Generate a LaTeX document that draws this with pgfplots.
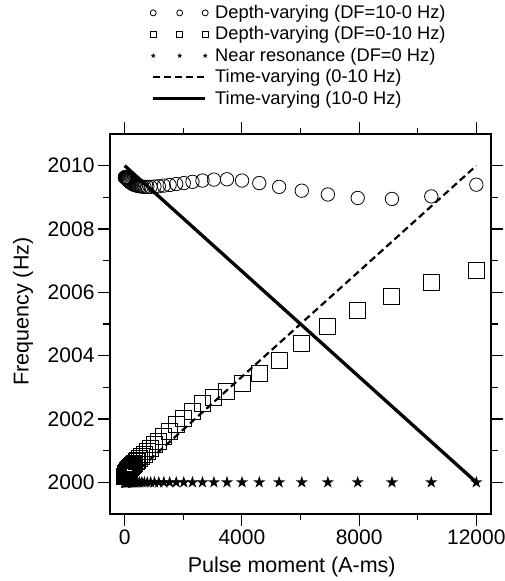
\documentclass[border=0pt]{standalone}
\usepackage{fontspec}
\setmainfont{Liberation Sans}
\usepackage{pgfplots}
\pgfplotsset{compat=1.18}
\usepackage{pgfplotstable}

\pgfdeclareplotmark{fstar}{%
  \pgfpathmoveto{\pgfpointpolar{90}{\pgfplotmarksize}}%
  \pgfpathlineto{\pgfpointpolar{126}{0.382\pgfplotmarksize}}%
  \pgfpathlineto{\pgfpointpolar{162}{\pgfplotmarksize}}%
  \pgfpathlineto{\pgfpointpolar{198}{0.382\pgfplotmarksize}}%
  \pgfpathlineto{\pgfpointpolar{234}{\pgfplotmarksize}}%
  \pgfpathlineto{\pgfpointpolar{270}{0.382\pgfplotmarksize}}%
  \pgfpathlineto{\pgfpointpolar{306}{\pgfplotmarksize}}%
  \pgfpathlineto{\pgfpointpolar{342}{0.382\pgfplotmarksize}}%
  \pgfpathlineto{\pgfpointpolar{18}{\pgfplotmarksize}}%
  \pgfpathlineto{\pgfpointpolar{54}{0.382\pgfplotmarksize}}%
  \pgfpathclose\pgfusepathqfill}

\pgfplotstableread{
x circ sq star
11 2009.63 2000.20 2000
12.6 2009.63 2000.20 2000
14.5 2009.63 2000.21 2000
16.6 2009.63 2000.21 2000
19 2009.63 2000.22 2000
21.8 2009.63 2000.22 2000
25 2009.62 2000.23 2000
28.7 2009.62 2000.24 2000
32.9 2009.62 2000.25 2000
37.8 2009.61 2000.26 2000
43.3 2009.61 2000.27 2000
50 2009.60 2000.28 2000
57 2009.60 2000.29 2000
65 2009.59 2000.30 2000
75 2009.58 2000.32 2000
86 2009.57 2000.33 2000
99 2009.56 2000.35 2000
113 2009.54 2000.37 2000
130 2009.53 2000.39 2000
149 2009.51 2000.41 2000
171 2009.49 2000.43 2000
196 2009.47 2000.46 2000
225 2009.45 2000.49 2000
258 2009.43 2000.52 2000
296 2009.41 2000.56 2000
339 2009.39 2000.60 2000
389 2009.38 2000.65 2000
446 2009.36 2000.70 2000
512 2009.35 2000.75 2000
587 2009.34 2000.81 2000
674 2009.33 2000.88 2000
773 2009.33 2000.97 2000
886 2009.33 2001.07 2000
1016 2009.34 2001.18 2000
1166 2009.35 2001.30 2000
1337 2009.37 2001.45 2000
1534 2009.39 2001.62 2000
1759 2009.42 2001.82 2000
2018 2009.45 2002.02 2000
2314 2009.49 2002.24 2000
2655 2009.53 2002.48 2000
3045 2009.56 2002.68 2000
3492 2009.57 2002.88 2000
4006 2009.53 2003.13 2000
4594 2009.45 2003.45 2000
5270 2009.33 2003.84 2000
6044 2009.21 2004.39 2000
6933 2009.09 2004.91 2000
7952 2008.98 2005.44 2000
9121 2008.95 2005.86 2000
10462 2009.03 2006.30 2000
12000 2009.40 2006.68 2000
}\datatable

\pgfplotsset{
  markleg/.style={legend image code/.code={%
    \draw[only marks, mark size=#1] plot coordinates {(0pt,0pt)(26.5pt,0pt)(52pt,0pt)};}},
  lineleg/.style={legend image code/.code={%
    \draw (0pt,0pt) -- (52pt,0pt);}},
}

\begin{document}
\begin{tikzpicture}
\useasboundingbox (-110pt,-67pt) rectangle (395pt,514pt);
\begin{axis}[
  scale only axis,
  width=381pt, height=380pt,
  xmin=-500, xmax=12500,
  ymin=1999, ymax=2011,
  xtick={0,4000,8000,12000},
  scaled x ticks=false,
  scaled y ticks=false,
  minor x tick num=1,
  ytick={2000,2002,2004,2006,2008,2010},
  minor y tick num=1,
  tick align=outside,
  major tick length=12pt,
  minor tick length=6.5pt,
  every tick/.style={black, line width=1.2pt},
  axis line style={black, line width=1.3pt},
  /pgf/number format/1000 sep={},
  /pgf/number format/assume math mode=true,
  tick label style={font=\fontsize{21}{24}\selectfont},
  label style={font=\fontsize{21.5}{25}\selectfont},
  xlabel={Pulse moment (A-ms)},
  ylabel={Frequency (Hz)},
  xlabel style={at={(axis description cs:0.477,-0.155)}, anchor=base},
  ylabel style={at={(axis description cs:-0.228,0.533)}, anchor=center},
  legend style={at={(axis description cs:0.105,1.3474)}, anchor=north west,
    draw=none, fill=none, font=\fontsize{18.3}{22}\selectfont,
    row sep=0pt, column sep=7pt, inner sep=0pt,
    nodes={inner sep=0pt, text height=16.3pt, text depth=5.1pt}},
  legend cell align=left,
  clip=false,
]
\addplot[only marks, mark=o, mark size=6.7pt, mark options={line width=0.8pt}, black, markleg=3pt]
  table[x=x, y=circ] {\datatable};
\addlegendentry{Depth-varying (DF=10-0 Hz)}
\addplot[only marks, mark=square, mark size=8pt, mark options={line width=1pt}, black, markleg=3pt]
  table[x=x, y=sq] {\datatable};
\addlegendentry{Depth-varying (DF=0-10 Hz)}
\addplot[only marks, mark=fstar, mark size=6.4pt, black, markleg=2.8pt]
  table[x=x, y=star] {\datatable};
\addlegendentry{Near resonance (DF=0 Hz)}
\addplot[black, line width=2.2pt, dash pattern=on 7pt off 4pt, lineleg]
  coordinates {(0,2000) (12000,2010)};
\addlegendentry{Time-varying (0-10 Hz)}
\addplot[black, line width=3.3pt, lineleg]
  coordinates {(0,2010) (12000,2000)};
\addlegendentry{Time-varying (10-0 Hz)}
\end{axis}
\end{tikzpicture}
\end{document}
